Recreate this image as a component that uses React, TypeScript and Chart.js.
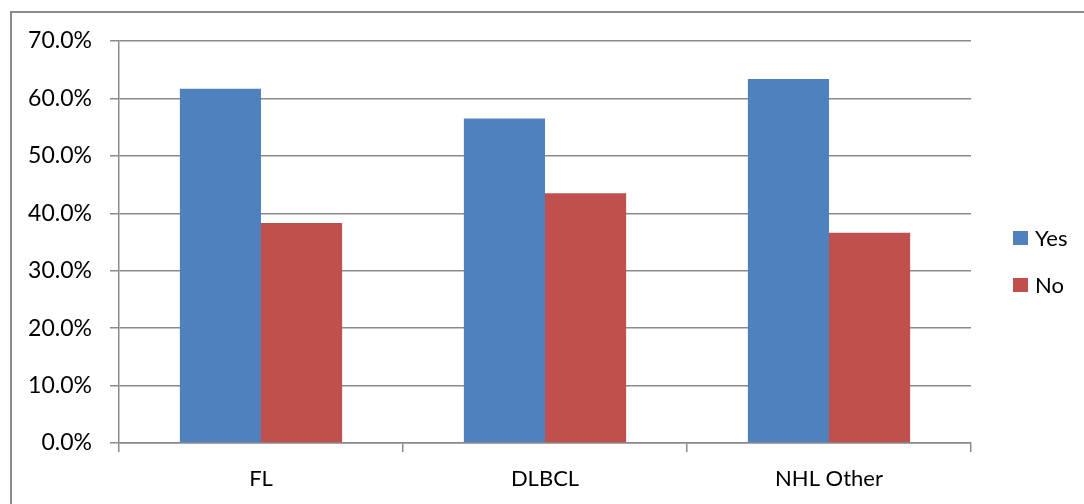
import React, { useEffect, useRef } from "react";
import { Chart, registerables } from "chart.js";

Chart.register(...registerables);

const categories = ["FL", "DLBCL", "NHL Other"];
const yesValues = [61.7, 56.5, 63.4];
const noValues = [38.3, 43.5, 36.6];
const seriesNames = ["Yes", "No"];
const seriesColors = ["#4F81BD", "#C0504D"];
const yMin = 0;
const yMax = 70;
const yStep = 10;

const FONT = "Lato, 'Open Sans', sans-serif";
const GRID = "#8a8a8a";

const legendPlugin = {
  id: "customLegend",
  afterDraw(chart: any) {
    const ctx = chart.ctx;
    const x0 = 1013;
    const rowY = [238, 285];
    ctx.save();
    chart.data.datasets.forEach((ds: any, i: number) => {
      const cy = rowY[i];
      ctx.fillStyle = ds.backgroundColor;
      ctx.fillRect(x0, cy - 7, 15, 14);
      ctx.fillStyle = "#000";
      ctx.font = `22px ${FONT}`;
      ctx.textAlign = "left";
      ctx.textBaseline = "middle";
      ctx.fillText(ds.label, x0 + 22, cy + 1);
    });
    ctx.restore();
  },
};

export default function App() {
  const ref = useRef<HTMLCanvasElement | null>(null);
  useEffect(() => {
    if (!ref.current) return;
    const chart = new Chart(ref.current, {
      type: "bar",
      data: {
        labels: categories,
        datasets: [
          { label: seriesNames[0], data: yesValues, backgroundColor: seriesColors[0] },
          { label: seriesNames[1], data: noValues, backgroundColor: seriesColors[1] },
        ],
      },
      options: {
        animation: false,
        responsive: false,
        maintainAspectRatio: false,
        layout: { padding: { left: 10, top: 41, right: 113, bottom: 0 } },
        datasets: {
          bar: { categoryPercentage: 2 / 3.5, barPercentage: 1 },
        } as any,
        plugins: {
          legend: { display: false },
          tooltip: { enabled: false },
        },
        scales: {
          x: {
            afterFit: (s: any) => {
              s.height = 61;
            },
            grid: {
              drawOnChartArea: false,
              drawTicks: true,
              tickLength: 9,
              color: GRID,
              lineWidth: 1.5,
            },
            border: { color: GRID, width: 1.5 },
            ticks: {
              color: "#000",
              font: { family: FONT, size: 22 },
              padding: 14,
            },
          },
          y: {
            min: yMin,
            max: yMax,
            afterFit: (s: any) => {
              s.width = 109;
            },
            grid: {
              drawTicks: true,
              tickLength: 9,
              color: GRID,
              lineWidth: 1.5,
            },
            border: { color: GRID, width: 1.5 },
            ticks: {
              stepSize: yStep,
              color: "#000",
              font: { family: FONT, size: 23 },
              padding: 18,
              callback: (v: any) => Number(v).toFixed(1) + "%",
            },
          },
        },
      },
      plugins: [legendPlugin],
    });
    return () => chart.destroy();
  }, []);

  return (
    <div
      style={{
        position: "fixed",
        left: 0,
        top: 0,
        width: 1084,
        height: 504,
        overflow: "hidden",
        background: "#fff",
      }}
    >
      <div
        style={{
          position: "absolute",
          left: 10,
          top: 11,
          width: 1200,
          height: 600,
          border: "2px solid #8a8a8a",
          boxSizing: "border-box",
        }}
      />
      <canvas
        ref={ref}
        width={1084}
        height={504}
        style={{ position: "absolute", left: 0, top: 0, width: 1084, height: 504 }}
      />
    </div>
  );
}
